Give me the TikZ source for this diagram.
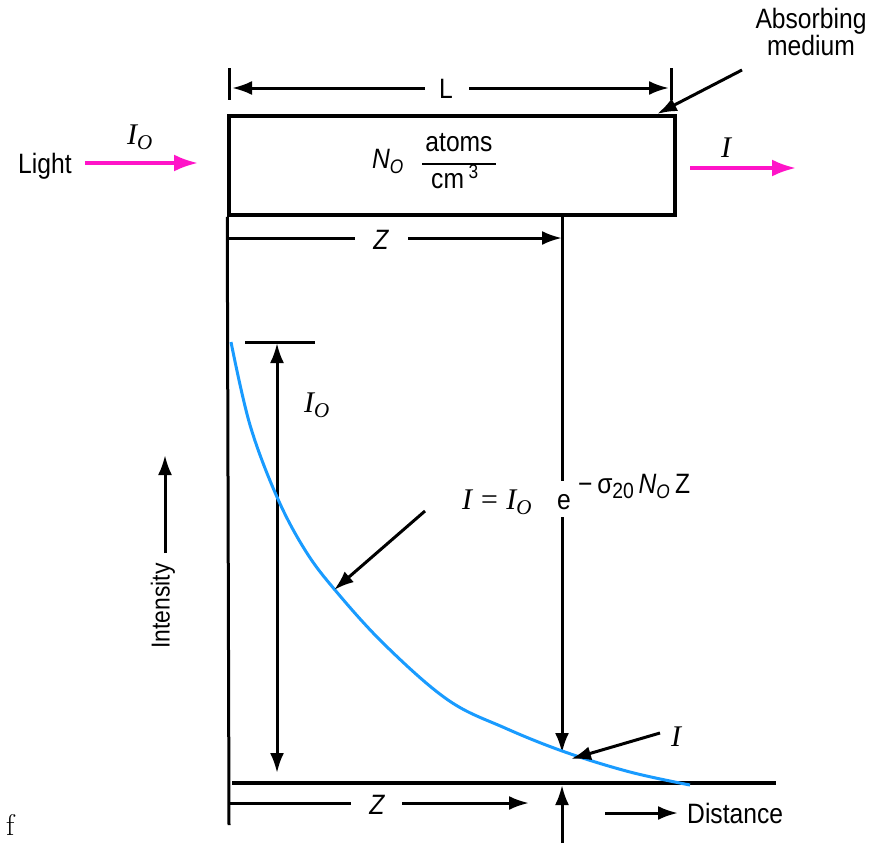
\documentclass[tikz,border=0pt]{standalone}
\usepackage{fontspec}
\newfontfamily\hsf[FakeStretch=0.88]{Liberation Sans}
\newfontfamily\tms{Liberation Serif}
\usetikzlibrary{arrows.meta}
\definecolor{mag}{RGB}{255,20,200}
\definecolor{curveblue}{RGB}{25,155,255}
\begin{document}
\begin{tikzpicture}[x=1pt,y=-1pt,
  lbl/.style={font=\hsf\fontsize{28}{25}\selectfont, inner sep=0pt},
  ser/.style={font=\tms\itshape\fontsize{30}{30}\selectfont, inner sep=0pt},
  ln/.style={line width=3pt},
  arr/.style={line width=3pt, -{Latex[length=20pt,width=14pt]}},
  marr/.style={line width=3.4pt, mag, -{Latex[length=24pt,width=17pt]}}]
\useasboundingbox (0,0) rectangle (888,843);

% box
\node[draw, line width=3.5pt, minimum width=446pt, minimum height=99pt, inner sep=0pt] (box) at (452,165.5) {};

% ticks and left line
\coordinate (tlA) at (229,68); \coordinate (tlB) at (229,100);
\coordinate (trA) at (671,68); \coordinate (trB) at (671,100);
\draw[ln] (tlA) -- (tlB);
\draw[ln] (trA) -- (trB);
\coordinate (leftEnd) at (229,825);
\draw[ln] (box.south west) -- (leftEnd);

% L dimension
\node[lbl] (Llab) at (446,89) {L};
\coordinate (Lleft) at (232,88); \coordinate (Lright) at (669,88);
\draw[arr] (Llab.west) ++(-14,-1) coordinate (La) (La) -- (Lleft);
\draw[arr] (Llab.east) ++(16,-1) coordinate (Lb) (Lb) -- (Lright);

% absorbing medium
\node[lbl, align=center] (abs) at (811,32) {Absorbing\\medium};
\coordinate (absA) at (742,70); \coordinate (absB) at (657,114);
\draw[arr] (absA) -- (absB);

% light in
\node[lbl, anchor=base west] (light) at (18,173) {Light};
\coordinate (mA) at (85,163); \coordinate (mB) at (198,163);
\draw[marr] (mA) -- (mB);
\node[ser, anchor=base west] (I0in) at (127,144) {I\textsubscript{O}};

% light out
\coordinate (mC) at (690,168); \coordinate (mD) at (796,168);
\draw[marr] (mC) -- (mD);
\node[ser, anchor=base west] (Iout) at (721,157) {I};

% N_O atoms/cm^3
\node[lbl, anchor=base west] (NO) at (372,168) {\itshape N\textsubscript{O}};
\node[lbl, anchor=base] (atoms) at (459,151) {atoms};
\coordinate (barL) at (422,164); \coordinate (barR) at (496,164);
\draw[line width=2.4pt] (barL) -- (barR);
\node[lbl, anchor=base west] (cm) at (431,188) {cm\,\textsuperscript{3}};

% top Z dimension
\node[lbl] (Ztop) at (381,240) {\itshape Z};
\coordinate (ZtA) at (229,238); \coordinate (ZtB) at (355,238);
\coordinate (ZtC) at (408,238); \coordinate (ZtD) at (562,238);
\draw[ln] (ZtA) -- (ZtB);
\draw[arr] (ZtC) -- (ZtD);

% vertical line at Z
\coordinate (vA) at (562,215); \coordinate (vB) at (562,481);
\coordinate (vC) at (562,517); \coordinate (vD) at (562,753);
\draw[ln] (vA) -- (vB);
\draw[arr] (vC) -- (vD);

% I_O vertical double arrow
\coordinate (barIL) at (245,342); \coordinate (barIR) at (315,342);
\draw[ln] (barIL) -- (barIR);
\coordinate (ioT) at (277,343); \coordinate (ioB) at (277,773);
\draw[line width=3pt, {Latex[length=20pt,width=14pt]}-{Latex[length=20pt,width=14pt]}] (ioT) -- (ioB);
\node[ser, anchor=base west] (I0lab) at (304,412) {I\textsubscript{O}};

% axis
\coordinate (axA) at (232,783); \coordinate (axB) at (776,783);
\draw[line width=3.5pt] (axA) -- (axB);

% curve
\draw[curveblue, line width=3pt] plot[smooth, tension=0.6] coordinates {
 (231,342) (250,425) (277,497) (305,550) (335,590) (385,645) (448,700)
 (505,728) (565,752) (630,772) (690,785)};

% formula
\node[ser, anchor=base west] (eqL) at (462,509) {I\hspace{7pt}=\hspace{7pt}I\textsubscript{O}};
\node[lbl, anchor=base] (eqE) at (564,509) {e};
\node[lbl, anchor=base west] (eqX) at (578,493) {\textminus\,σ{\fontsize{22}{22}\selectfont\raisebox{-5pt}{20}}\,{\itshape N\textsubscript{O}}\,Z};
\coordinate (fA) at (425,511); \coordinate (fB) at (334,590);
\draw[arr] (fA) -- (fB);

% I label at bottom
\node[ser, anchor=base west] (Ibot) at (671,746) {I};
\coordinate (iA) at (660,733); \coordinate (iB) at (571,759);
\draw[arr] (iA) -- (iB);

% intensity
\node[lbl, rotate=90, font=\hsf\fontsize{26}{26}\selectfont] (intens) at (163,606) {Intensity};
\coordinate (inA) at (165,553); \coordinate (inB) at (165,455);
\draw[arr] (inA) -- (inB);

% bottom Z
\node[lbl] (Zbot) at (377,805) {\itshape Z};
\coordinate (ZbA) at (229,803); \coordinate (ZbB) at (351,803);
\coordinate (ZbC) at (402,803); \coordinate (ZbD) at (529,803);
\draw[ln] (ZbA) -- (ZbB);
\draw[arr] (ZbC) -- (ZbD);

% up arrow
\coordinate (uA) at (562,843); \coordinate (uB) at (562,785);
\draw[arr] (uA) -- (uB);

% distance
\node[lbl, anchor=base west] (dist) at (687,823) {Distance};
\coordinate (dA) at (605,813); \coordinate (dB) at (678,813);
\draw[arr] (dA) -- (dB);

% stray f
\node[inner sep=0pt, anchor=base west, font=\fontsize{30}{30}\selectfont] (fch) at (6,835) {f};
\end{tikzpicture}
\end{document}
